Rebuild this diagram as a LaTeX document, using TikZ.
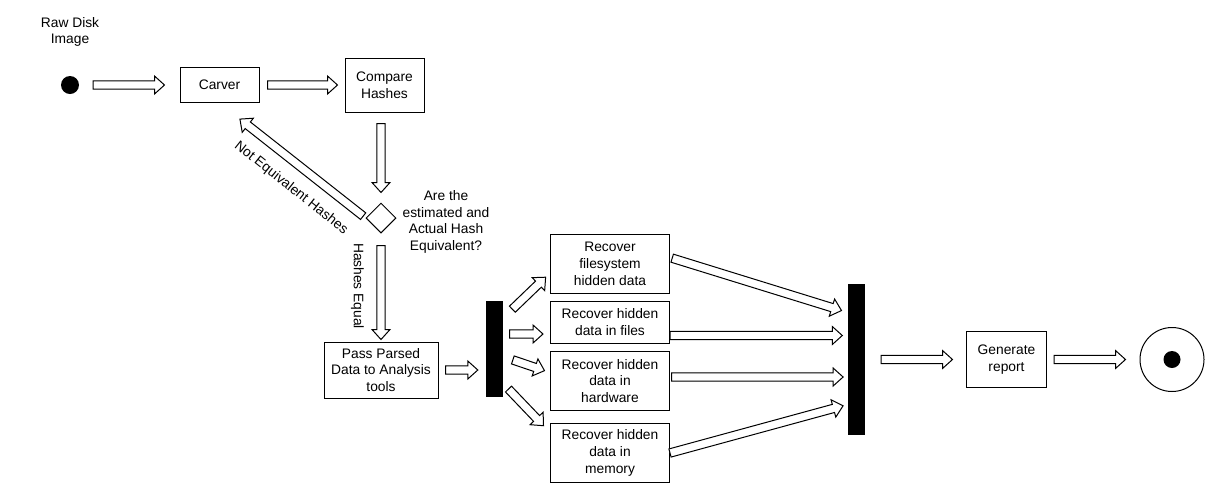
\documentclass[tikz,border=0pt]{standalone}
\usepackage{fontspec}
\setmainfont{Liberation Sans}
\usetikzlibrary{shapes.geometric,calc}

\begin{document}
\begin{tikzpicture}[x=1pt, y=-1pt, font=\fontsize{13.8}{16.7}\selectfont]

\tikzstyle{box}=[rectangle, draw, line width=1pt, align=center, inner sep=2pt]
\tikzstyle{bar}=[rectangle, fill=black, inner sep=0pt, minimum width=17pt]
\tikzstyle{dot}=[circle, fill=black, inner sep=0pt]
\tikzstyle{note}=[align=center, inner sep=0pt]
\tikzset{flow/.style 2 args={draw, fill=white, line width=1pt, line join=miter,
  to path={let \p1=(\tikztostart), \p2=(\tikztotarget),
               \n1={atan2(\y2-\y1,\x2-\x1)}, \n2={veclen(\x2-\x1,\y2-\y1)} in
    ([shift={(\p1)},rotate=\n1]#1,4.2pt)
    -- ([shift={(\p1)},rotate=\n1]\n2-#2-10pt,4.2pt)
    -- ([shift={(\p1)},rotate=\n1]\n2-#2-10pt,9pt)
    -- ([shift={(\p1)},rotate=\n1]\n2-#2,0pt)
    -- ([shift={(\p1)},rotate=\n1]\n2-#2-10pt,-9pt)
    -- ([shift={(\p1)},rotate=\n1]\n2-#2-10pt,-4.2pt)
    -- ([shift={(\p1)},rotate=\n1]#1,-4.2pt) -- cycle}}}

\useasboundingbox (0,0) rectangle (1218,499);

\node (start) [dot, minimum size=18pt] at (70,85) {};
\node (rawtext) [note] at (70,32) {Raw Disk\\Image};
\node (carver) [box, minimum width=79pt, minimum height=35pt] at (219.5,85) {Carver};
\node (compare) [box, minimum width=79pt, minimum height=54pt] at (384.5,85) {Compare\\Hashes};
\node (decide) [diamond, draw, line width=1pt, inner sep=0pt, minimum width=30pt, minimum height=30pt] at (381,218) {};
\node (question) [note] at (446,222) {Are the\\estimated and\\Actual Hash\\Equivalent?};
\node (pass) [box, minimum width=114pt, minimum height=56pt] at (381,370) {Pass Parsed\\Data to Analysis\\tools};
\node (fork) [bar, minimum height=96pt] at (494,348.5) {};

\node (fs) [box, minimum width=119pt, minimum height=59pt] at (610,264) {Recover\\filesystem\\hidden data};
\node (files) [box, minimum width=119pt, minimum height=42pt] at (610,322) {Recover hidden\\data in files};
\node (hw) [box, minimum width=119pt, minimum height=59pt] at (610,381) {Recover hidden\\data in\\hardware};
\node (mem) [box, minimum width=119pt, minimum height=59pt] at (610,453) {Recover hidden\\data in\\memory};

\node (join) [bar, minimum height=151pt] at (856.5,359.5) {};
\node (report) [box, minimum width=80pt, minimum height=56pt] at (1006.5,359.5) {Generate\\report};
\node (finish) [circle, draw, line width=1pt, minimum size=64pt] at (1172,359.5) {};
\node (finishdot) [dot, minimum size=17pt] at (finish) {};

\node (noteq) [note, rotate=-38.5] at (291,188) {Not Equivalent Hashes};
\node (equal) [note, rotate=-90] at (357.5,286) {Hashes Equal};

\draw [flow={14pt}{15pt}] (start.east) to (carver.west);
\draw [flow={8pt}{7pt}] (carver.east) to (compare.west);
\draw [flow={11pt}{10pt}] (compare.south -| decide.north) to (decide.north);
\draw [flow={3pt}{26pt}] (decide.west) to (carver.south);
\draw [flow={12pt}{2pt}] (decide.south) to (pass.north);
\draw [flow={7pt}{7.5pt}] (pass.east) to (pass.east -| fork.west);

\draw [flow={13.4pt}{6pt}] ($(fork.east)+(0,-30)$) to ($(fs.west)+(0,9)$);
\draw [flow={7pt}{7pt}] ($(fork.east)+(0,-14.5)$) to ($(files.west)+(0,12)$);
\draw [flow={10.7pt}{5.8pt}] ($(fork.east)+(0,8)$) to ($(hw.west)+(0,-8.5)$);
\draw [flow={8.4pt}{9.4pt}] ($(fork.east)+(0,34.5)$) to ($(mem.west)+(0,-20.5)$);

\draw [flow={2.3pt}{6.6pt}] ($(fs.east)+(0,-6.5)$) to ($(join.west)+(0,-47)$);
\draw [flow={0pt}{5.5pt}] ($(files.east)+(0,13.5)$) to ($(join.west)+(0,-24)$);
\draw [flow={1.5pt}{4.7pt}] ($(hw.east)+(0,-4)$) to ($(join.west)+(0,17.5)$);
\draw [flow={0pt}{4.9pt}] (mem.east) to ($(join.west)+(0,45)$);

\draw [flow={16pt}{13.5pt}] (join.east) to (report.west);
\draw [flow={7pt}{14pt}] (report.east) to (finish.west);

\end{tikzpicture}
\end{document}
